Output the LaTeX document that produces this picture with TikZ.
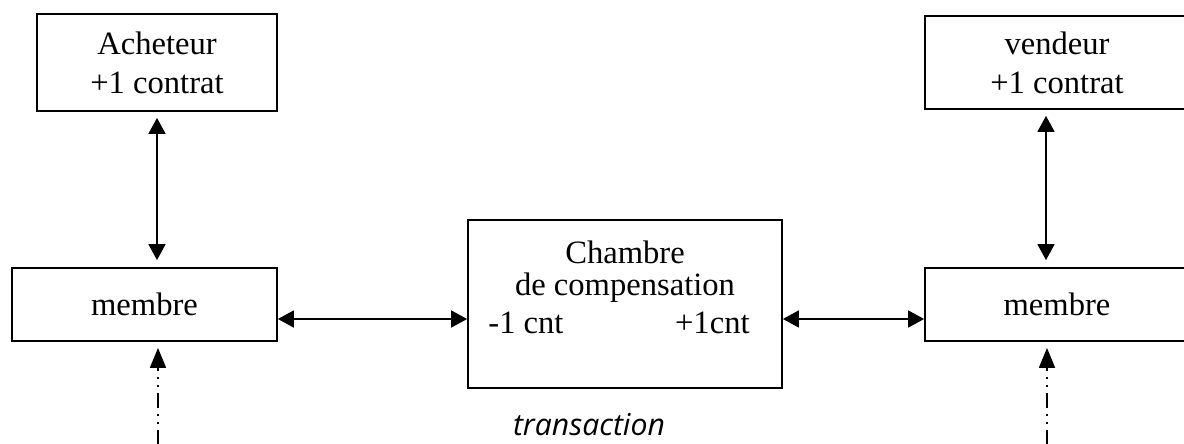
\documentclass[tikz,border=0pt]{standalone}
\usepackage{fontspec}
\setmainfont{Liberation Serif}
\newfontfamily\handfont{Open Sans}
\usetikzlibrary{arrows.meta}
\begin{document}
\begin{tikzpicture}[x=0.5pt,y=-0.5pt,
  box/.style={draw, line width=0.9pt, rectangle, inner sep=0pt, align=center,
    font=\fontsize{16.3}{19.5}\selectfont},
  label/.style={inner sep=0pt, font=\fontsize{16.3}{19.5}\selectfont},
  link/.style={line width=0.85pt, {Triangle[length=8pt,width=8.5pt]}-{Triangle[length=8pt,width=8.5pt]}},
  feed/.style={line width=0.9pt, -{Triangle[length=10pt,width=8pt]},
    dash pattern=on 7.5pt off 3pt on 1pt off 3pt on 1pt off 3pt}]
\useasboundingbox (0,0) rectangle (1184,444);
\clip (0,0) rectangle (1184,444);
\fill[white] (0,0) rectangle (1184,444);

% parties to the trade
\node[box, minimum width=120pt, minimum height=48.5pt] (buyer) at (157,62.5)
  {Acheteur\\+1 contrat};
\node[box, minimum width=132pt, minimum height=46.5pt] (seller) at (1057,62.5)
  {vendeur\\+1 contrat};

% clearing members
\node[box, minimum width=132.5pt, minimum height=36.5pt] (mleft) at (144.5,304.5) {membre};
\node[box, minimum width=132pt, minimum height=36.5pt] (mright) at (1057,304.5) {membre};

% clearing house
\node[box, minimum width=157pt, minimum height=84pt] (ch) at (625,304) {};
\node[label] (chtitle) at (625,252) {Chambre};
\node[label] (chsub) at (625,288) {de compensation};
\node[label, anchor=base west] (chneg) at (488,333) {-1 cnt};
\node[label, anchor=base east] (chpos) at (750,333) {+1cnt};
\node[inner sep=0pt] (trans) at (589,425)
  {\resizebox{76pt}{!}{\handfont\itshape transaction}};

% links
\draw[link] ([yshift=-3pt]buyer.south -| 157,0) -- ([yshift=3.5pt]mleft.north -| 157,0);
\draw[link] ([yshift=-3pt]seller.south -| 1046,0) -- ([yshift=3.5pt]mright.north -| 1046,0);
\draw[link] (mleft.east |- 0,319) -- (ch.west |- 0,319);
\draw[link] (ch.east |- 0,319) -- (mright.west |- 0,319);

% orders arriving from below
\coordinate (inleft) at (158,445);
\coordinate (inright) at (1047,445);
\draw[feed] (inleft) -- ([yshift=-3pt]mleft.south -| inleft);
\draw[feed] (inright) -- ([yshift=-3pt]mright.south -| inright);
\end{tikzpicture}
\end{document}
